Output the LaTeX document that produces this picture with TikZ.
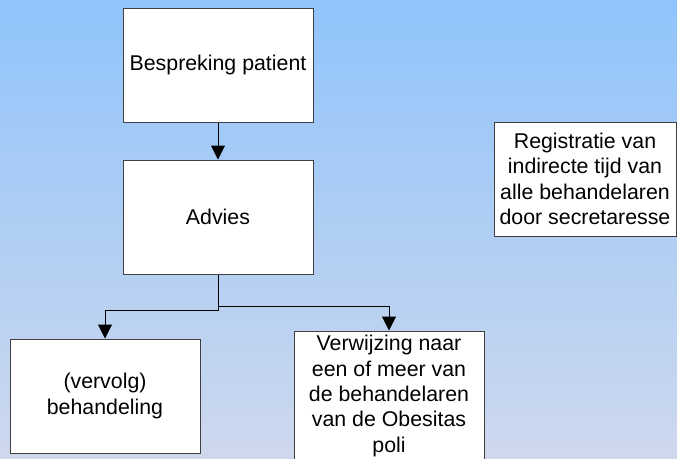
\documentclass[tikz,border=0pt]{standalone}
\usepackage{fontspec}
\setmainfont{Liberation Sans}
\usetikzlibrary{arrows.meta}
\definecolor{luchtboven}{RGB}{144,196,251}
\definecolor{luchtonder}{RGB}{206,216,237}
\begin{document}
\begin{tikzpicture}[x=0.75pt, y=-0.75pt,
    blok/.style={draw=black!75, fill=white, line width=0.75pt, align=center,
      font=\fontsize{16}{19}\selectfont, inner sep=0pt,
      minimum width=142.5pt, minimum height=85.5pt},
    pijl/.style={-{Triangle[width=10.5pt,length=10.5pt]}, line width=0.75pt}]
  \shade[top color=luchtboven, bottom color=luchtonder] (0,0) rectangle (677,458);
  \useasboundingbox (0,0) rectangle (677,458);
  \node[blok] (bespreking) at (218,65) {Bespreking patient};
  \node[blok] (advies) at (218,217) {Advies};
  \node[blok] (behandeling) at (105,396) {(vervolg)\\behandeling};
  \node[blok, minimum height=97.5pt] (verwijzing) at (389,396)
    {Verwijzing naar\\een of meer van\\de behandelaren\\van de Obesitas\\poli};
  \node[blok, minimum width=136.5pt] (registratie) at (585,179)
    {Registratie van\\indirecte tijd van\\alle behandelaren\\door secretaresse};
  \draw[pijl] (bespreking) -- (advies);
  \draw[pijl] (advies.south) -- ++(0,36) -| (behandeling.north);
  \draw[pijl] (advies.south) -- ++(0,32) -| (verwijzing.north);
\end{tikzpicture}
\end{document}
